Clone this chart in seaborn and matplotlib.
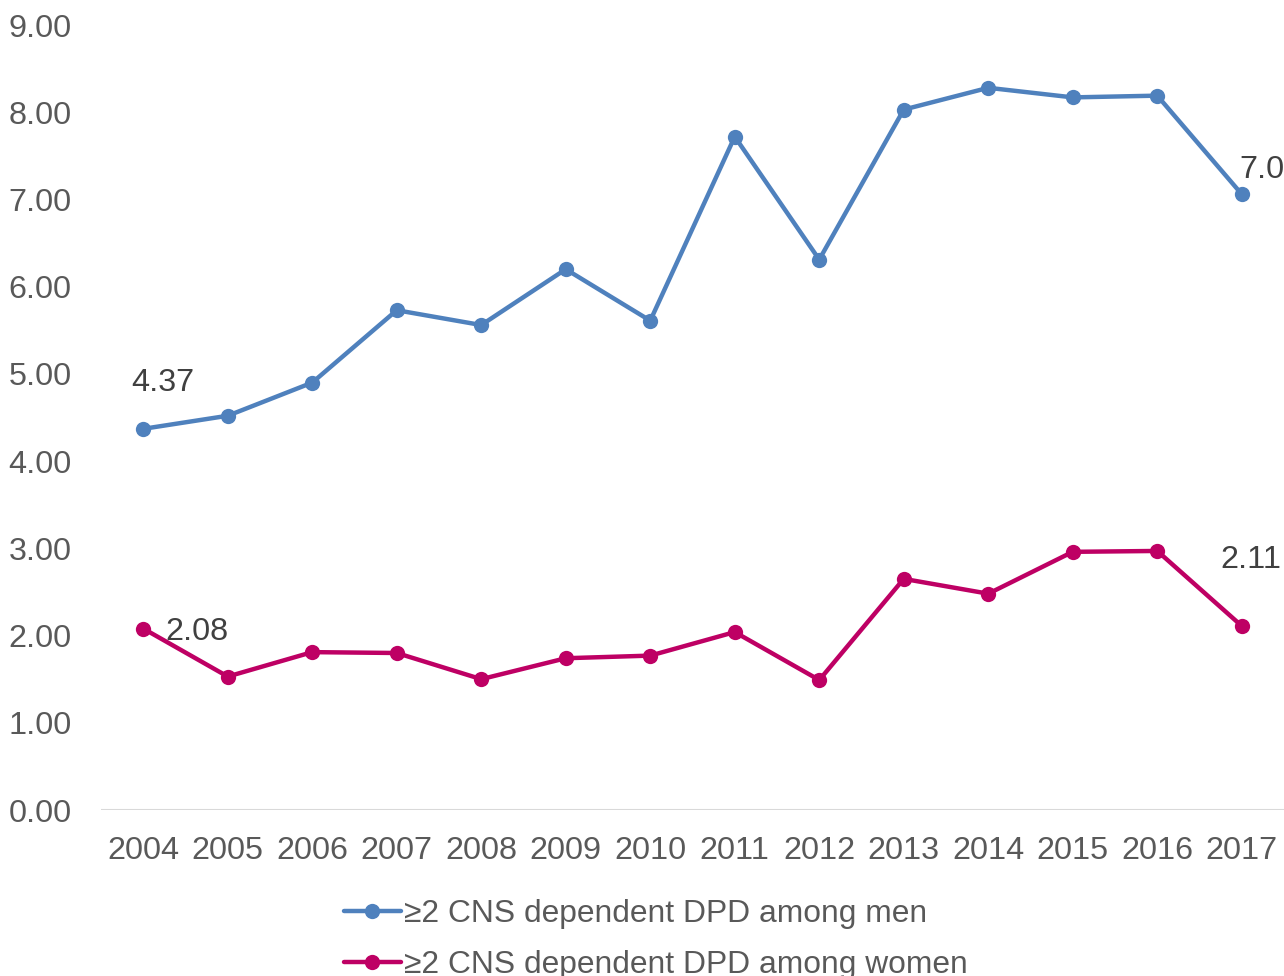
import matplotlib
matplotlib.use("Agg")
import matplotlib.pyplot as plt
import seaborn as sns
import pandas as pd
from matplotlib.lines import Line2D

years = [2004, 2005, 2006, 2007, 2008, 2009, 2010, 2011, 2012, 2013, 2014, 2015, 2016, 2017]
men = [4.37, 4.52, 4.90, 5.73, 5.56, 6.20, 5.61, 7.72, 6.31, 8.03, 8.28, 8.17, 8.19, 7.06]
women = [2.08, 1.53, 1.81, 1.80, 1.50, 1.74, 1.77, 2.04, 1.49, 2.65, 2.48, 2.96, 2.97, 2.11]
series_names = ["\u22652 CNS dependent DPD among men", "\u22652 CNS dependent DPD among women"]
colors = ["#4F81BD", "#BE0064"]

sns.set_theme(style="white")
plt.rcParams["font.family"] = ["Liberation Sans", "DejaVu Sans"]

df = pd.DataFrame({
    "pos": list(range(len(years))) * 2,
    "value": men + women,
    "series": [series_names[0]] * len(years) + [series_names[1]] * len(years),
})

FS = 23.3
LEG_FS = 22.9

fig = plt.figure(figsize=(12.84, 9.76), dpi=100)
ax = fig.add_axes([101 / 1284, 166 / 976, 1 - 101 / 1284, (810 - 25) / 976])

sns.lineplot(data=df, x="pos", y="value", hue="series", palette=colors,
             marker="o", markersize=11, markeredgewidth=0, linewidth=3.2,
             ax=ax, legend=False)

ax.set_xlim(-0.5, len(years) - 0.5)
ax.set_ylim(0, 9)
ax.set_xticks(range(len(years)))
ax.set_xticklabels([str(y) for y in years])
ax.set_yticks(range(0, 10))
ax.set_yticklabels([f"{v:.2f}" for v in range(0, 10)])
ax.tick_params(axis="both", labelsize=FS, colors="#595959", length=0)
ax.tick_params(axis="x", pad=19)
ax.tick_params(axis="y", pad=21)
ax.set_xlabel("")
ax.set_ylabel("")
for s in ax.spines.values():
    s.set_visible(False)
ax.axhline(0, color="#D9D9D9", linewidth=1.5, zorder=0)
ax.grid(False)

# value labels on first and last points
lab_kw = dict(fontsize=FS, color="#404040", clip_on=False)
ax.annotate(f"{men[0]:.2f}", (0, men[0]), xytext=(20, 46), textcoords="offset pixels",
            ha="center", va="center", **lab_kw)
ax.annotate(f"{men[-1]:.2f}", (len(years) - 1, men[-1]), xytext=(-2, 24), textcoords="offset pixels",
            ha="left", va="center", **lab_kw)
ax.annotate(f"{women[0]:.2f}", (0, women[0]), xytext=(22, -3), textcoords="offset pixels",
            ha="left", va="center", **lab_kw)
ax.annotate(f"{women[-1]:.2f}", (len(years) - 1, women[-1]), xytext=(9, 66), textcoords="offset pixels",
            ha="center", va="center", **lab_kw)

handles = [Line2D([], [], color=c, linewidth=3.2, marker="o", markersize=11, markeredgewidth=0)
           for c in colors]
fig.legend(handles, series_names, loc="upper left", bbox_to_anchor=(344 / 1284, 1 - 899 / 976),
           frameon=False, fontsize=LEG_FS, labelcolor="#595959", handlelength=1.78,
           handletextpad=0.1, labelspacing=0.66, borderpad=0, borderaxespad=0)

fig.savefig("out.png", dpi=100)
